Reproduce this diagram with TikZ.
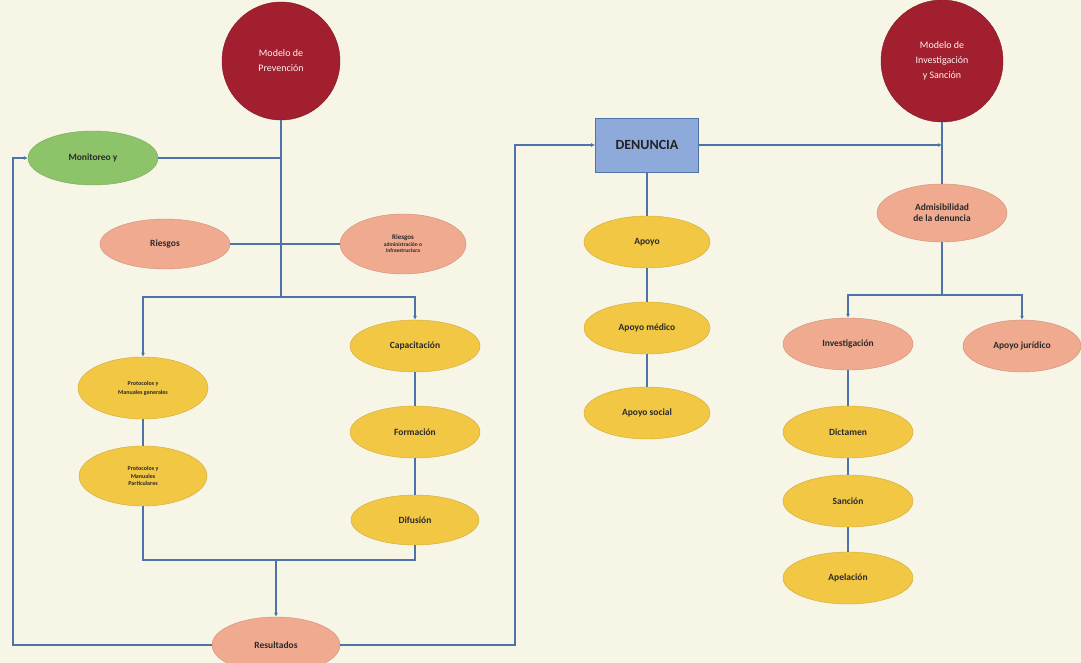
\documentclass[tikz,border=0pt]{standalone}
\usepackage{fontspec}
\setmainfont{Carlito}
\usetikzlibrary{shapes.geometric,arrows.meta}
\definecolor{bgc}{HTML}{F7F5E6}
\definecolor{redc}{HTML}{A11F2E}
\definecolor{greenc}{HTML}{8DC46A}
\definecolor{salmonc}{HTML}{F0AA90}
\definecolor{yellowc}{HTML}{F2C744}
\definecolor{bluec}{HTML}{8EAADB}
\definecolor{lnc}{HTML}{4F72A8}
\definecolor{txtc}{HTML}{2A2A2A}
\tikzset{
  bubble/.style={ellipse, inner sep=0pt, align=center, font=\bfseries\fontsize{9.5}{11}\selectfont, text=txtc},
  yel/.style={bubble, fill=yellowc, draw=yellowc!85!black, line width=0.4pt},
  sal/.style={bubble, fill=salmonc, draw=salmonc!85!black, line width=0.4pt},
  grn/.style={bubble, fill=greenc, draw=greenc!85!black, line width=0.4pt},
  model/.style={circle, fill=redc, draw=redc!80!black, minimum size=118pt, inner sep=0pt, align=center, text=white!80!pink, font=\fontsize{10}{15}\selectfont},
  conn/.style={draw=lnc, line width=1.1pt},
  arr/.style={conn, -{Latex[length=4pt,width=4pt]}},
}
\begin{document}
\begin{tikzpicture}[x=1pt,y=-1pt]
\fill[bgc] (0,0) rectangle (1081,663);
\useasboundingbox (0,0) rectangle (1081,663);

% nodes
\node[model] (mp) at (281,61) {Modelo de\\Prevención};
\node[model, minimum size=122pt] (mi) at (942,61) {Modelo de\\Investigación\\y Sanción};
\node[grn, minimum width=130pt, minimum height=54pt] (mon) at (93,158) {Monitoreo y};
\node[sal, minimum width=130pt, minimum height=50pt] (rie) at (165,244) {Riesgos};
\node[sal, minimum width=126pt, minimum height=60pt, font=\bfseries\fontsize{5.5}{6.5}\selectfont] (ria) at (403,244) {\fontsize{7}{8}\selectfont Riesgos\\administración o\\infraestructura};
\node[yel, minimum width=130pt, minimum height=62pt, font=\bfseries\fontsize{6}{9}\selectfont] (pg) at (143,388) {Protocolos y\\Manuales generales};
\node[yel, minimum width=128pt, minimum height=60pt, font=\bfseries\fontsize{6}{7.5}\selectfont] (pp) at (143,476) {Protocolos y\\Manuales\\Particulares};
\node[yel, minimum width=130pt, minimum height=52pt] (cap) at (415,346) {Capacitación};
\node[yel, minimum width=130pt, minimum height=52pt] (for) at (415,432) {Formación};
\node[yel, minimum width=128pt, minimum height=50pt] (dif) at (415,520) {Difusión};
\node[sal, minimum width=128pt, minimum height=56pt] (res) at (276,645) {Resultados};
\node[rectangle, fill=bluec, draw=lnc, line width=0.8pt, minimum width=103pt, minimum height=54pt, font=\bfseries\fontsize{14}{16}\selectfont, text=txtc!80!black] (den) at (647,145) {DENUNCIA};
\node[yel, minimum width=126pt, minimum height=52pt] (ap) at (647,242) {Apoyo};
\node[yel, minimum width=126pt, minimum height=52pt] (apm) at (647,328) {Apoyo médico};
\node[yel, minimum width=126pt, minimum height=52pt] (aps) at (647,413) {Apoyo social};
\node[sal, minimum width=130pt, minimum height=58pt] (adm) at (942,213) {Admisibilidad\\de la denuncia};
\node[sal, minimum width=130pt, minimum height=52pt] (inv) at (848,344) {Investigación};
\node[sal, minimum width=118pt, minimum height=52pt] (apj) at (1022,346) {Apoyo jurídico};
\node[yel, minimum width=130pt, minimum height=52pt] (dic) at (848,432) {Dictamen};
\node[yel, minimum width=130pt, minimum height=52pt] (san) at (848,501) {Sanción};
\node[yel, minimum width=130pt, minimum height=52pt] (apl) at (848,578) {Apelación};

% coordinates
\coordinate (pbr) at (281,297);
\coordinate (pbot) at (276,560);
\coordinate (abr) at (942,295);

% prevention tree
\draw[conn] (mp.south) -- (pbr);
\draw[conn] (mon.east) -- (mon.east -| mp.south);
\draw[conn] (rie.east) -- (ria.west);
\draw[arr] (pbr) -| (pg.north);
\draw[arr] (pbr) -| (cap.north);
\draw[conn] (pg) -- (pp);
\draw[conn] (cap) -- (for);
\draw[conn] (for) -- (dif);
\draw[conn] (pp.south) |- (pbot) -| (dif.south);
\draw[arr] (pbot) -- (res.north);
\draw[arr] (res.west) -| (13,158) -- (mon.west);
\draw[arr] (res.east) -| (515,145) -- (den.west);

% denuncia
\draw[conn] (den) -- (ap);
\draw[conn] (ap) -- (apm);
\draw[conn] (apm) -- (aps);
\draw[arr] (den.east) -- (den.east -| mi.south);

% investigation tree
\draw[conn] (mi.south) -- (adm.north);
\draw[conn] (adm.south) -- (abr);
\draw[arr] (abr) -| (inv.north);
\draw[arr] (abr) -| (apj.north);
\draw[conn] (inv) -- (dic);
\draw[conn] (dic) -- (san);
\draw[conn] (san) -- (apl);
\end{tikzpicture}
\end{document}
